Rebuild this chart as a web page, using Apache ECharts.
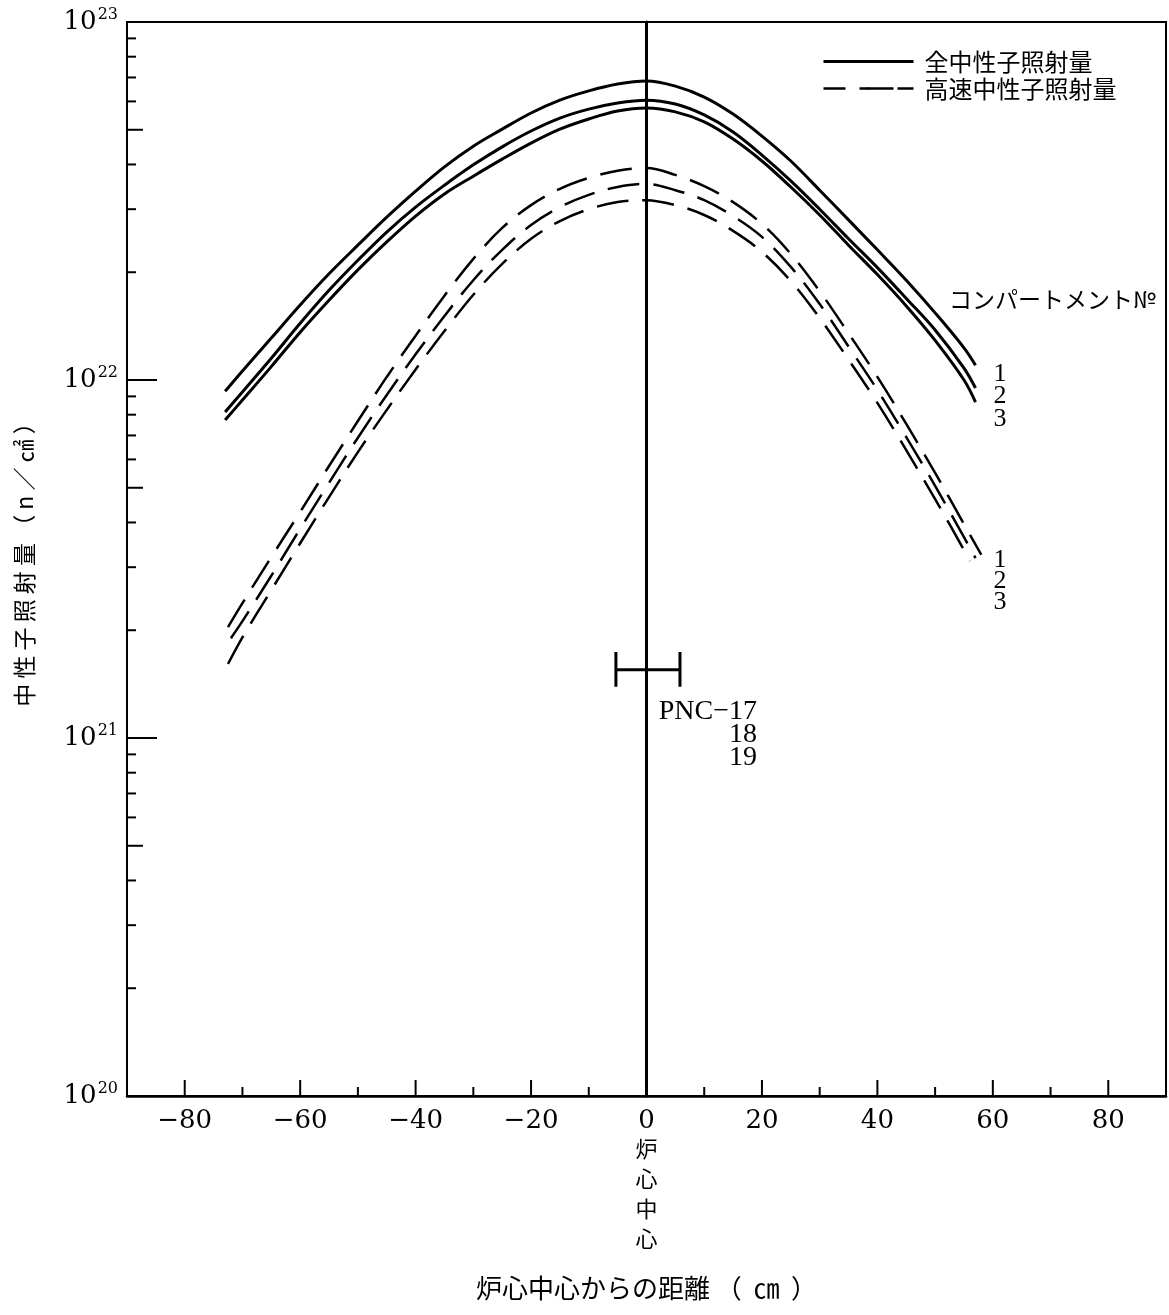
<!DOCTYPE html>
<html>
<head>
<meta charset="utf-8">
<script src="https://cdn.jsdelivr.net/npm/echarts@6/dist/echarts.min.js"></script>
<style>html,body{margin:0;padding:0;background:#fff;}#c{width:1169px;height:1315px;}</style>
</head>
<body>
<div id="c"></div>
<script>
// ---- data ----
const xSolid = [-73,-70,-65,-60,-55,-50,-45,-40,-35,-30,-25,-20,-15,-10,-5,0,5,10,15,20,25,30,35,40,45,50,55,57];
const solid1 = [9.3e21,1.06e22,1.31e22,1.62e22,1.98e22,2.38e22,2.85e22,3.37e22,3.94e22,4.50e22,5.02e22,5.57e22,6.05e22,6.42e22,6.71e22,6.84e22,6.62e22,6.17e22,5.53e22,4.80e22,4.09e22,3.39e22,2.80e22,2.31e22,1.90e22,1.54e22,1.23e22,1.10e22];
const solid2 = [8.14e21,9.26e21,1.15e22,1.44e22,1.78e22,2.16e22,2.59e22,3.04e22,3.50e22,3.99e22,4.48e22,4.96e22,5.39e22,5.71e22,5.94e22,6.05e22,5.90e22,5.50e22,4.93e22,4.25e22,3.60e22,3.00e22,2.48e22,2.06e22,1.69e22,1.38e22,1.08e22,9.5e21];
const solid3 = [7.73e21,8.79e21,1.09e22,1.36e22,1.67e22,2.03e22,2.43e22,2.87e22,3.31e22,3.71e22,4.14e22,4.59e22,5.02e22,5.36e22,5.64e22,5.75e22,5.61e22,5.26e22,4.71e22,4.09e22,3.46e22,2.89e22,2.38e22,1.97e22,1.61e22,1.29e22,1.00e22,8.68e21];

const xDash1 = [-72.5,-70,-65,-60,-55,-50,-45,-40,-35,-30,-25,-20,-15,-10,-5,0,5,10,15,20,25,30,35,40,45,50,55,58];
const dash1 = [2.04e21,2.38e21,3.20e21,4.28e21,5.75e21,7.68e21,1.02e22,1.33e22,1.72e22,2.18e22,2.66e22,3.08e22,3.42e22,3.67e22,3.84e22,3.91e22,3.74e22,3.48e22,3.14e22,2.73e22,2.25e22,1.77e22,1.35e22,1.02e22,7.54e21,5.50e21,3.96e21,3.25e21];
const xDash2 = [-72,-70,-65,-60,-55,-50,-45,-40,-35,-30,-25,-20,-15,-10,-5,0,5,10,15,20,25,30,35,40,45,50,55,57];
const dash2 = [1.90e21,2.12e21,2.84e21,3.84e21,5.16e21,6.9e21,9.08e21,1.18e22,1.51e22,1.90e22,2.31e22,2.71e22,3.04e22,3.29e22,3.46e22,3.53e22,3.39e22,3.18e22,2.87e22,2.51e22,2.07e22,1.63e22,1.24e22,9.38e21,6.93e21,5.06e21,3.64e21,3.18e21];
const xDash3 = [-72.5,-70,-65,-60,-55,-50,-45,-40,-35,-30,-25,-20,-15,-10,-5,0,5,10,15,20,25,30,35,40,45,50,55,56];
const dash3 = [1.61e21,1.91e21,2.59e21,3.50e21,4.71e21,6.29e21,8.25e21,1.07e22,1.37e22,1.73e22,2.11e22,2.48e22,2.78e22,3.00e22,3.14e22,3.18e22,3.08e22,2.89e22,2.61e22,2.28e22,1.89e22,1.49e22,1.14e22,8.63e21,6.37e21,4.65e21,3.35e21,3.12e21];

const centerLineX = [0, 0];
const centerLineY = [1e23, 1.28e20];
const errorBarX = [-5.3, 5.8];
const errorBarY = 1.55e21;
const errorCapY = [1.39e21, 1.74e21];

const xMajorTicks = [-80,-60,-40,-20,0,20,40,60,80];
const xMinorTicks = [-70,-50,-30,-10,10,30,50,70];
const yDecades = [1e20, 1e21, 1e22];
const yMantissas = [2,3,4,5,6,7,8,9];

const legendNames = ['全中性子照射量', '高速中性子照射量'];
const compLabel = 'コンパートメント№';
const compNumbers = ['1', '2', '3'];
const pncLabels = ['PNC−17', '18', '19'];
const xTitle = '炉心中心からの距離 （  ㎝  ）';
const yTitle = '中 性 子 照 射 量 （ n ／ ㎠ ）';
const centerWords = ['炉', '心', '中', '心'];

// ---- build ----
const pair = (xs, ys) => xs.map((x, i) => [x, ys[i]]);
const X_MIN = -90, X_MAX = 90, Y_MIN = 1e20, Y_MAX = 1e23;

const yTickData = [];
yDecades.forEach(d => {
  yTickData.push([X_MIN, d, 30]);
  yMantissas.forEach(m => yTickData.push([X_MIN, m * d, m === 5 ? 16 : 9]));
});
const xTickData = xMajorTicks.map(x => [x, Y_MIN, 16]).concat(xMinorTicks.map(x => [x, Y_MIN, 9]));

const solidStyle = { color: '#000', width: 3 };
const dashStyle = { color: '#000', width: 2.5, type: [32, 14] };
function curve(name, xs, ys, style) {
  return { type: 'line', name, data: pair(xs, ys), symbol: 'none', showSymbol: false,
    smooth: 0.35, lineStyle: style, itemStyle: { color: '#000' }, silent: true, z: 3 };
}
function plain(data, width, type) {
  return { type: 'line', data, symbol: 'none', showSymbol: false, silent: true,
    lineStyle: { color: '#000', width, type: type || 'solid' }, z: 4 };
}

const serif = 'DejaVu Serif';
const serif2 = 'Liberation Serif';
const jp = 'Noto Sans CJK JP';

function txt(x, y, text, font, size, align) {
  return { type: 'text', x, y, silent: true,
    style: { text, fontFamily: font, fontSize: size, fill: '#000', align: align || 'center', verticalAlign: 'middle' } };
}

const option = {
  animation: false,
  backgroundColor: '#fff',
  grid: { left: 127, right: 2, top: 22, bottom: 219, show: true, borderColor: '#000', borderWidth: 2, backgroundColor: 'transparent' },
  legend: {
    orient: 'vertical', left: 822, top: 48, padding: 0, itemGap: 0,
    itemWidth: 90, itemHeight: 3,
    data: [
      { name: legendNames[0], lineStyle: { width: 3, color: '#000' } },
      { name: legendNames[1], lineStyle: { type: [22, 14, 34, 4, 16], width: 2.5, color: '#000' } }
    ],
    textStyle: { fontFamily: jp, fontSize: 24, color: '#000', lineHeight: 27, padding: [0, 0, 0, 6] },
    selectedMode: false
  },
  xAxis: {
    type: 'value', min: X_MIN, max: X_MAX, interval: 10,
    axisLine: { show: true, onZero: false, lineStyle: { color: '#000', width: 2.5 } },
    axisTick: { show: false }, splitLine: { show: false },
    axisLabel: {
      margin: 12, color: '#000', fontFamily: serif, fontSize: 26,
      formatter: v => {
        if (v === 0) return '{n|0}\n' + centerWords.map(c => '{c|' + c + '}').join('\n');
        if (Math.abs(v) > 80 || v % 20 !== 0) return '';
        return (v < 0 ? '−' : '') + Math.abs(v);
      },
      rich: {
        n: { fontFamily: serif, fontSize: 26, color: '#000', lineHeight: 26 },
        c: { fontFamily: jp, fontSize: 22, color: '#000', lineHeight: 30 }
      }
    },
    name: xTitle, nameLocation: 'middle', nameGap: 179,
    nameTextStyle: { fontFamily: jp, fontSize: 26, color: '#000' }
  },
  yAxis: {
    type: 'log', logBase: 10, min: Y_MIN, max: Y_MAX, splitNumber: 3,
    axisLine: { show: true, lineStyle: { color: '#000', width: 3 } },
    axisTick: { show: false }, splitLine: { show: false }, minorTick: { show: false },
    axisLabel: {
      margin: 9, color: '#000',
      formatter: v => '{b|10}{s|' + Math.round(Math.log10(v)) + '}',
      rich: {
        b: { fontFamily: serif, fontSize: 26, color: '#000', lineHeight: 30 },
        s: { fontFamily: serif, fontSize: 16, color: '#000', lineHeight: 30, verticalAlign: 'top', padding: [0, 0, 0, 1] }
      }
    },
    name: yTitle, nameLocation: 'middle', nameGap: 91, nameRotate: 90,
    nameTextStyle: { fontFamily: jp, fontSize: 23, color: '#000' }
  },
  series: [
    curve(legendNames[0], xSolid, solid1, solidStyle),
    curve(legendNames[0], xSolid, solid2, solidStyle),
    curve(legendNames[0], xSolid, solid3, solidStyle),
    curve(legendNames[1], xDash1, dash1, dashStyle),
    curve(legendNames[1], xDash2, dash2, dashStyle),
    curve(legendNames[1], xDash3, dash3, dashStyle),
    plain(pair(centerLineX, centerLineY), 1.2, [60, 7, 3, 7]),
    plain([[errorBarX[0], errorBarY], [errorBarX[1], errorBarY]], 3),
    plain([[errorBarX[0], errorCapY[0]], [errorBarX[0], errorCapY[1]]], 3),
    plain([[errorBarX[1], errorCapY[0]], [errorBarX[1], errorCapY[1]]], 3),
    {
      type: 'custom', data: yTickData, silent: true, z: 5,
      renderItem: (params, api) => {
        const p = api.coord([api.value(0), api.value(1)]);
        return { type: 'line', shape: { x1: p[0], y1: p[1], x2: p[0] + api.value(2), y2: p[1] },
          style: { stroke: '#000', lineWidth: 2 } };
      }
    },
    {
      type: 'custom', data: xTickData, silent: true, z: 5,
      renderItem: (params, api) => {
        const p = api.coord([api.value(0), api.value(1)]);
        return { type: 'line', shape: { x1: p[0], y1: p[1], x2: p[0], y2: p[1] - api.value(2) },
          style: { stroke: '#000', lineWidth: 2 } };
      }
    }
  ],
  graphic: [
    txt(949, 299, compLabel, jp, 23, 'left'),
    txt(1000, 374, compNumbers[0], serif2, 26),
    txt(1000, 396, compNumbers[1], serif2, 26),
    txt(1000, 419, compNumbers[2], serif2, 26),
    txt(1000, 560, compNumbers[0], serif2, 26),
    txt(1000, 581, compNumbers[1], serif2, 26),
    txt(1000, 602, compNumbers[2], serif2, 26),
    txt(757, 712, pncLabels[0], serif2, 28, 'right'),
    txt(757, 735, pncLabels[1], serif2, 28, 'right'),
    txt(757, 758, pncLabels[2], serif2, 28, 'right')
  ]
};

const chart = echarts.init(document.getElementById('c'), null, { renderer: 'canvas' });
chart.setOption(option);
</script>
</body>
</html>
